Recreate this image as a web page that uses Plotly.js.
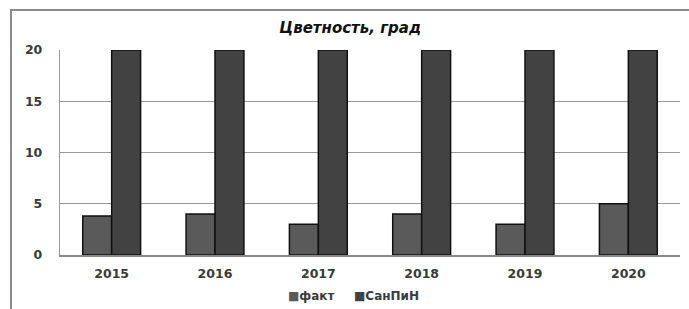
<!DOCTYPE html>
<html><head><meta charset="utf-8">
<script src="https://cdn.plot.ly/plotly-3.0.1.min.js"></script>
<style>html,body{margin:0;padding:0;background:#fff}#c{width:689px;height:309px}</style>
</head><body><div id="c"></div>
<script>
const years = ['2015','2016','2017','2018','2019','2020'];
const fakt = [3.8, 4, 3, 4, 3, 5];
const sanpin = [20, 20, 20, 20, 20, 20];
const seriesNames = ['факт', 'СанПиН'];
const seriesColors = ['#5a5a5a', '#424242'];
const titleText = 'Цветность, град';

const fam = '"DejaVu Sans", "Open Sans", sans-serif';
const fnt = {family: fam, size: 12.5, color: '#3a3a3a', weight: 'bold'};
const data = [
  {type:'bar', x: years, y: fakt, name: seriesNames[0], showlegend:false,
   marker:{color:seriesColors[0], line:{color:'#111', width:1.5}}},
  {type:'bar', x: years, y: sanpin, name: seriesNames[1], showlegend:false,
   marker:{color:seriesColors[1], line:{color:'#111', width:1.5}}}
];
const legX = [0.3645, 0.471];
const annotations = seriesNames.map((n,i)=>({
  xref:'paper', yref:'paper', x:legX[i], y:-0.2, xanchor:'left', yanchor:'middle', showarrow:false,
  text:'<span style="color:'+seriesColors[i]+'">■</span>'+n,
  font:{family:fam, size:12, color:'#3a3a3a', weight:'bold'}
}));
const layout = {
  width:689, height:309,
  margin:{l:60, r:9, t:50, b:54},
  paper_bgcolor:'#fff', plot_bgcolor:'#fff',
  barmode:'group', bargap:0.44, bargroupgap:0,
  showlegend:false,
  annotations: annotations,
  title:{text:titleText, x:0.468, xref:'paper', xanchor:'center', y:1-28/309, yanchor:'middle',
         font:{family:fam, size:15, color:'#111', weight:'bold', style:'italic'}},
  xaxis:{type:'category', tickfont:fnt, showgrid:false, showline:true, linecolor:'#888', linewidth:1.5,
         ticks:'', ticklabelstandoff:6, automargin:false},
  yaxis:{range:[0,20], tickvals:[0,5,10,15,20], tickfont:fnt, showgrid:true, gridcolor:'#999', gridwidth:1.2,
         showline:true, linecolor:'#999', linewidth:1.2, zeroline:false, ticks:'', ticklabelstandoff:14, automargin:false},
  shapes:[{type:'path', xref:'paper', yref:'paper',
           path:'M -0.079,-0.4 L -0.079,1.195 L 1.05,1.195',
           line:{color:'#8a8a8a', width:2}}]
};
Plotly.newPlot('c', data, layout, {displayModeBar:false, staticPlot:true});
</script></body></html>
